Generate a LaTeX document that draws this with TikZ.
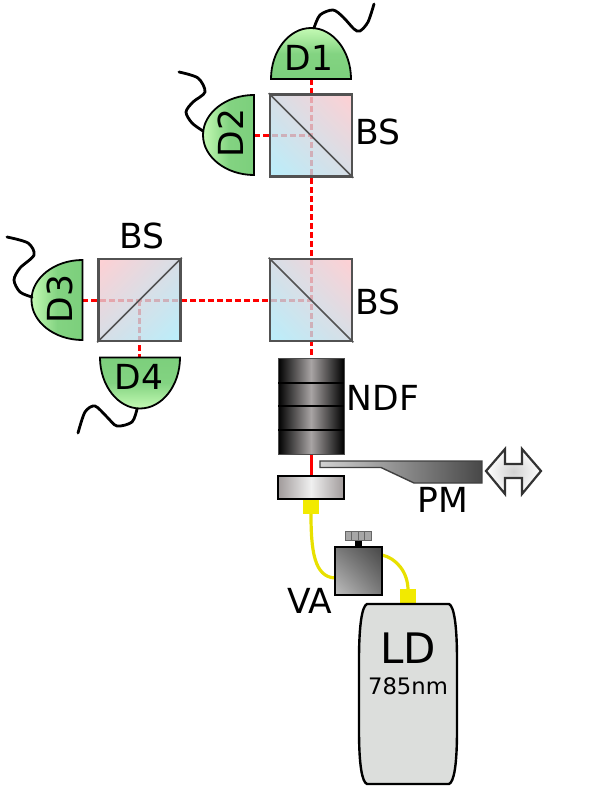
\documentclass[tikz,border=0pt]{standalone}
\usepackage{fontspec}
\setmainfont{DejaVu Sans}
\usetikzlibrary{shadings}
\definecolor{domelight}{HTML}{C4FAB4}
\definecolor{domedark}{HTML}{7CCF7C}
\definecolor{cubepink}{HTML}{FFC4C8}
\definecolor{cubecyan}{HTML}{A8EAFA}
\definecolor{cubemid}{HTML}{CCD6E0}
\definecolor{fibreyellow}{HTML}{E8E000}
\definecolor{plugyellow}{HTML}{F2EA00}
\definecolor{bodygrey}{HTML}{DCDEDC}
\definecolor{ndfgrey}{HTML}{A8A4A4}
\definecolor{lensgrey}{HTML}{A09A9A}
\tikzset{
	label32/.style={inner sep=0pt, font=\fontsize{34.5}{38}\selectfont},
	beam/.style={red, line width=3pt, dash pattern=on 6pt off 3pt},
	wire/.style={black, line width=2.8pt, line cap=round},
	fibre/.style={fibreyellow, line width=3.2pt},
	dome/.style={draw=black, line width=1.8pt, top color=domelight, bottom color=domedark, middle color=domedark!90!domelight},
	cube/.style={rectangle, draw=black!68, line width=2.6pt, minimum size=82pt, inner sep=0pt, fill opacity=0.8},
	plug/.style={fill=plugyellow},
}
\begin{document}
\begin{tikzpicture}[x=1pt, y=-1pt]
	\useasboundingbox (0,0) rectangle (598,797);
	% Beam ends
	\coordinate (d1) at (311,79);
	\coordinate (d2) at (254,135);
	\coordinate (d3) at (82,300);
	\coordinate (d4) at (139,357);
	\coordinate (topcentre) at (311,135);
	\coordinate (midcentre) at (311,300);
	\coordinate (leftcentre) at (139,300);
	\coordinate (ndftop) at (311,358);
	\coordinate (ndfbottom) at (311,454);
	\coordinate (lensin) at (311,476);
	% Beams
	\draw[beam] (d1) -- (topcentre) -- (midcentre) -- (ndftop);
	\draw[beam] (d2) -- (topcentre);
	\draw[beam] (d3) -- (leftcentre) -- (midcentre);
	\draw[beam] (leftcentre) -- (d4);
	\draw[red, line width=3pt] (ndfbottom) -- (lensin);
	% Beam splitters
	\node[cube, upper left=cubemid, upper right=cubepink, lower left=cubecyan, lower right=cubemid] (bstop) at (311,135.5) {};
	\node[cube, upper left=cubemid, upper right=cubepink, lower left=cubecyan, lower right=cubemid] (bsmid) at (311,300) {};
	\node[cube, upper left=cubepink, upper right=cubemid, lower left=cubemid, lower right=cubecyan] (bsleft) at (139.5,300) {};
	\draw[black!68, line width=1.5pt] (bstop.north west) -- (bstop.south east);
	\draw[black!68, line width=1.5pt] (bsmid.north west) -- (bsmid.south east);
	\draw[black!68, line width=1.5pt] (bsleft.south west) -- (bsleft.north east);
	% Detectors
	\foreach \x/\y/\ang in {311/79/0, 254/135/90, 82.5/300/90, 140/357.5/180}{
		\path[dome, shading angle=\ang, shift={(\x,\y)}, rotate=\ang]
			(-40,0) .. controls (-40,-28) and (-22,-51) .. (0,-51)
			.. controls (22,-51) and (40,-28) .. (40,0) -- cycle;
	}
	% Detector wires
	\draw[wire] plot[smooth] coordinates {(314,28) (320,15) (333,10) (343,17) (354,29) (360,31) (368,22) (374,4)};
	\draw[wire] plot[smooth] coordinates {(203,131) (192,123) (186,112) (193,102) (205,92) (198,78) (179,72)};
	\draw[wire] plot[smooth] coordinates {(32,297) (20,292) (14,280) (20,268) (34,255) (28,243) (7,237)};
	\draw[wire] plot[smooth] coordinates {(137,409) (132,422) (117,426) (107,417) (95,406) (85,412) (78,433)};
	% Neutral density filters
	\foreach \y in {358,382,406,430}{
		\shade[left color=black, right color=black, middle color=ndfgrey] (278,\y) rectangle (344,\y+24);
	}
	\draw[black!70, line width=1pt] (278,358) rectangle (344,454);
	\foreach \y in {383,406,430}{
		\draw[black, line width=1.8pt] (278,\y) -- (344,\y);
	}
	% Pick-off mirror and its arrow
	\shade[left color=black!18, right color=black!72, draw=black!75, line width=1.4pt]
		(320,461) -- (482,461) -- (482,483) -- (414,483) -- (381,467.5) -- (320,467.5) -- cycle;
	\shade[inner color=black!18, outer color=white, draw=black!80, line width=2.2pt]
		(486,471) -- (505,449) -- (505,464) -- (522,464) -- (522,449) -- (541,471)
		-- (522,494) -- (522,478) -- (505,478) -- (505,494) -- cycle;
	% Fibres
	\draw[fibre] (311,514) .. controls (311,550) and (314,577) .. (335,578);
	\draw[fibre] (382,555) .. controls (396,558) and (408,572) .. (408,590);
	% Collimator
	\fill[plug] (303,499) rectangle (319,514);
	\shade[left color=lensgrey, right color=lensgrey, middle color=black!6, draw=black, line width=1.8pt] (278,476) rectangle (344,499);
	% Attenuator
	\shade[upper left=black!52, upper right=black!72, lower left=black!25, lower right=black!52, draw=black, line width=1.8pt] (335,547) rectangle (382,595);
	\fill[black] (355,540) rectangle (362,547);
	\fill[black!35, draw=black!60, line width=0.8pt] (345,531) rectangle (371,540);
	\foreach \x in {351.5,358,364.5}{
		\draw[black!60, line width=1pt] (\x,531) -- (\x,540);
	}
	% Laser body
	\fill[plug] (400,589) rectangle (416,604);
	\draw[black, line width=2.4pt, fill=bodygrey] (367,604) -- (449,604)
		.. controls (454,606) and (457,625) .. (457,660) -- (457,730)
		.. controls (457,765) and (454,782) .. (449,784) -- (367,784)
		.. controls (362,782) and (359,765) .. (359,730) -- (359,660)
		.. controls (359,625) and (362,606) .. (367,604) -- cycle;
	% Labels
	\node[label32] (lbsa) at (378,132) {BS};
	\node[label32] (lbsb) at (378,302) {BS};
	\node[label32] (lbsc) at (142,236) {BS};
	\node[label32] (ld1) at (309,58) {D1};
	\node[label32, rotate=90] (ld2) at (231,133) {D2};
	\node[label32, rotate=90] (ld3) at (60,299) {D3};
	\node[label32] (ld4) at (139,377) {D4};
	\node[label32] (lndf) at (383,398) {NDF};
	\node[label32] (lpm) at (443,500) {PM};
	\node[label32] (lva) at (310,601) {VA};
	\node[inner sep=0pt, font=\fontsize{42}{46}\selectfont] (lld) at (408,648) {LD};
	\node[inner sep=0pt, font=\fontsize{22.7}{25}\selectfont] (lnm) at (408,686) {785nm};
\end{tikzpicture}
\end{document}
